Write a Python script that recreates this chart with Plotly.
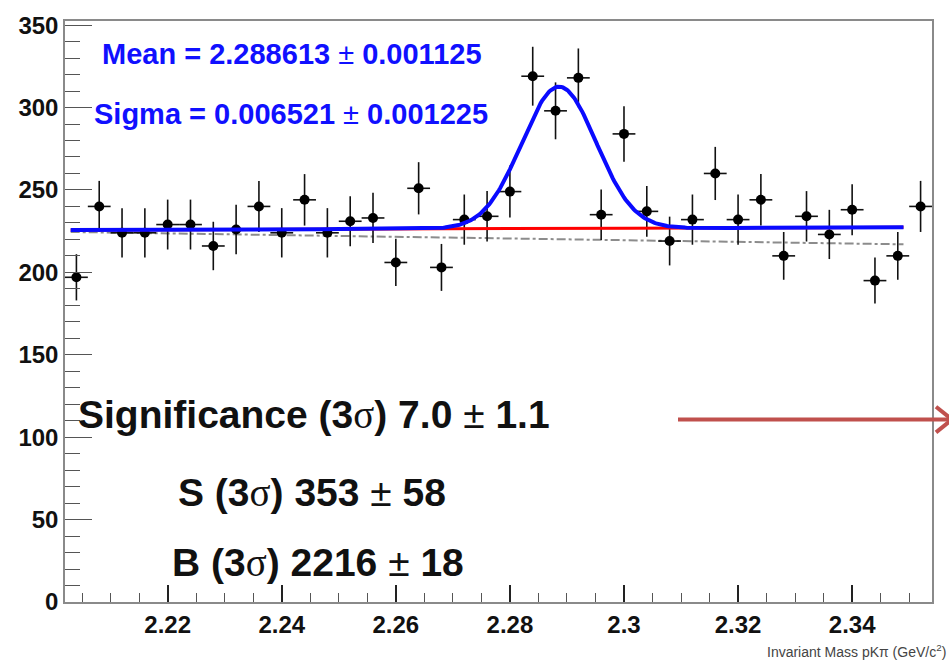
import numpy as np
import plotly.graph_objects as go

# ---- data ----
bin_centers = [2.204, 2.208, 2.212, 2.216, 2.220, 2.224, 2.228, 2.232, 2.236, 2.240,
               2.244, 2.248, 2.252, 2.256, 2.260, 2.264, 2.268, 2.272, 2.276, 2.280,
               2.284, 2.288, 2.292, 2.296, 2.300, 2.304, 2.308, 2.312, 2.316, 2.320,
               2.324, 2.328, 2.332, 2.336, 2.340, 2.344, 2.348, 2.352]
counts = [197, 240, 224, 224, 229, 229, 216, 226, 240, 224,
          244, 224, 231, 233, 206, 251, 203, 232, 234, 249,
          319, 298, 318, 235, 284, 237, 219, 232, 260, 232,
          244, 210, 234, 223, 238, 195, 210, 240]
bin_half_width = 0.002

# fit parameters
fit_mean = 2.288613
fit_sigma = 0.006521
fit_amp = 86.0
bkg_x = [2.203, 2.349]
bkg_y = [225.7, 227.3]          # linear background (red)
alt_bkg_y = [224.5, 217.0]      # alternative background (grey dash-dot)

x_range = [2.202, 2.354]
y_range = [0, 352.5]

# ---- figure ----
xs = np.linspace(bkg_x[0], bkg_x[1], 600)
bkg = np.interp(xs, bkg_x, bkg_y)
total = bkg + fit_amp * np.exp(-0.5 * ((xs - fit_mean) / fit_sigma) ** 2)

fig = go.Figure()
fig.add_trace(go.Scatter(x=bkg_x, y=alt_bkg_y, mode="lines",
                         line=dict(color="#8c8c8c", width=2, dash="dashdot"),
                         hoverinfo="skip"))
fig.add_trace(go.Scatter(
    x=bin_centers, y=counts, mode="markers",
    marker=dict(color="black", size=10),
    error_y=dict(type="data", array=np.sqrt(counts), color="#111", thickness=1.6, width=0),
    error_x=dict(type="constant", value=bin_half_width, color="#111", thickness=1.6, width=0),
))
fig.add_trace(go.Scatter(x=xs, y=bkg, mode="lines",
                         line=dict(color="#ff0000", width=3), hoverinfo="skip"))
fig.add_trace(go.Scatter(x=xs, y=total, mode="lines",
                         line=dict(color="#0a0aff", width=4), hoverinfo="skip"))

L, R, T, B = 65, 17, 13, 62
W, H = 949, 664
pw, ph = W - L - R, H - T - B

def px(xp):
    return (xp - L) / pw

def py(yp):
    return (H - B - yp) / ph

tick_font = dict(family="Liberation Sans", size=24, color="#111", weight="bold")

fig.update_layout(
    width=W, height=H,
    margin=dict(l=L, r=R, t=T, b=B),
    paper_bgcolor="white", plot_bgcolor="white",
    showlegend=False,
    xaxis=dict(range=x_range, showgrid=False, zeroline=False,
               showline=True, linecolor="#8a8a8a", linewidth=1.5, mirror=True,
               tick0=2.2, dtick=0.02, ticks="inside", ticklen=17, tickwidth=1.5,
               tickcolor="#222", tickfont=tick_font,
               minor=dict(dtick=0.005, ticks="inside", ticklen=9, tickwidth=1,
                          tickcolor="#555")),
    yaxis=dict(range=y_range, showgrid=False, zeroline=False,
               showline=True, linecolor="#8a8a8a", linewidth=1.5, mirror=True,
               tick0=0, dtick=50, ticks="inside", ticklen=27, tickwidth=1.2,
               tickcolor="#555", tickfont=tick_font,
               minor=dict(dtick=10, ticks="inside", ticklen=15, tickwidth=1,
                          tickcolor="#555")),
)

pm = '<span style="font-weight:normal">±</span>'
sig = '<span style="font-family:Liberation Serif;font-weight:normal">σ</span>'

blue_font = dict(family="Liberation Sans", size=29, color="#1010ff", weight="bold")
black_font = dict(family="Liberation Sans", size=39, color="#111", weight="bold")

texts = [
    (f"Mean = 2.288613 {pm} 0.001125", 100, 46, blue_font),
    (f"Sigma = 0.006521 {pm} 0.001225", 92, 107, blue_font),
    (f"Significance (3{sig}) 7.0 {pm} 1.1", 76, 412, black_font),
    (f"S (3{sig}) 353 {pm} 58", 176, 491, black_font),
    (f"B (3{sig}) 2216 {pm} 18", 170, 562, black_font),
]
for t, x0, y0, f in texts:
    fig.add_annotation(text=t, xref="paper", yref="paper", x=px(x0), y=py(y0),
                       xanchor="left", yanchor="middle", showarrow=False, font=f)

fig.add_annotation(text="Invariant Mass pKπ (GeV/c<sup>2</sup>)", xref="paper", yref="paper",
                   x=px(948), y=py(652), xanchor="right", yanchor="middle",
                   showarrow=False,
                   font=dict(family="Liberation Sans", size=14, color="#444"))

# red arrow (slide annotation)
arrow_col = "#c0504d"
fig.add_shape(type="line", xref="paper", yref="paper", x0=px(678), y0=py(417),
              x1=px(950), y1=py(417), line=dict(color=arrow_col, width=4), layer="above")
fig.add_shape(type="line", xref="paper", yref="paper", x0=px(936), y0=py(404),
              x1=px(952), y1=py(417), line=dict(color=arrow_col, width=4), layer="above")
fig.add_shape(type="line", xref="paper", yref="paper", x0=px(936), y0=py(430),
              x1=px(952), y1=py(417), line=dict(color=arrow_col, width=4), layer="above")

fig.write_html("out.html")
